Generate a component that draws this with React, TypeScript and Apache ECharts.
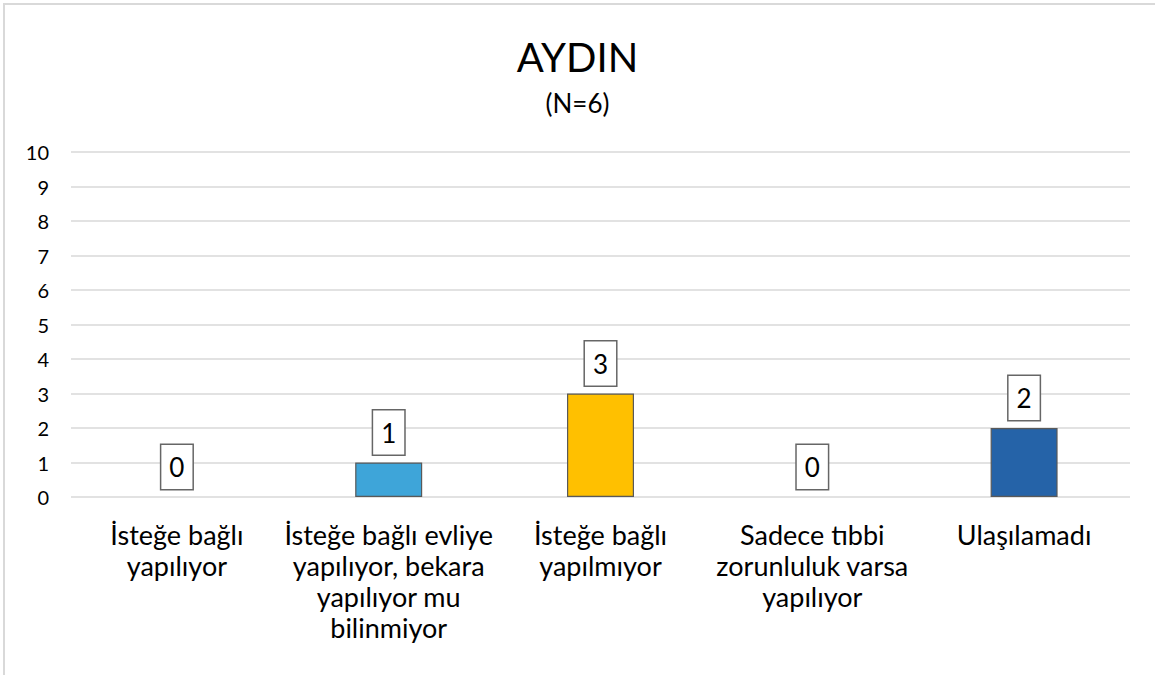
import React, { useEffect, useRef } from "react";
import * as echarts from "echarts";

const categories = [
  "İsteğe bağlı\nyapılıyor",
  "İsteğe bağlı evliye\nyapılıyor, bekara\nyapılıyor mu\nbilinmiyor",
  "İsteğe bağlı\nyapılmıyor",
  "Sadece tıbbi\nzorunluluk varsa\nyapılıyor",
  "Ulaşılamadı",
];
const values = [0, 1, 3, 0, 2];
const barColors = ["#3EA5D9", "#3EA5D9", "#FFC000", "#3EA5D9", "#2563A8"];
const titleText = "AYDIN";
const subtitleText = "(N=6)";
const yMin = 0;
const yMax = 10;
const yInterval = 1;

const FONT = "Lato, 'Noto Sans', sans-serif";

export default function App() {
  const ref = useRef<HTMLDivElement>(null);
  useEffect(() => {
    if (!ref.current) return;
    const chart = echarts.init(ref.current, null, { renderer: "svg" });
    chart.setOption({
      animation: false,
      backgroundColor: "#ffffff",
      textStyle: { fontFamily: FONT },
      title: {
        text: titleText,
        subtext: subtitleText,
        left: "center",
        top: 32,
        itemGap: 13,
        textStyle: { fontFamily: FONT, fontSize: 40, fontWeight: "normal", color: "#000" },
        subtextStyle: { fontFamily: FONT, fontSize: 26, color: "#000" },
      },
      graphic: [
        {
          type: "rect",
          shape: { x: 4, y: 4, width: 1300, height: 800 },
          style: { fill: "none", stroke: "#d9d9d9", lineWidth: 2 },
          silent: true,
        },
      ],
      grid: { left: 71, right: 25, top: 152, bottom: 178, containLabel: false },
      xAxis: {
        type: "category",
        data: categories,
        axisLine: { show: false },
        axisTick: { show: false },
        axisLabel: {
          interval: 0,
          fontFamily: FONT,
          fontSize: 27,
          lineHeight: 31,
          color: "#000",
          margin: 22,
          align: "center",
        },
      },
      yAxis: {
        type: "value",
        min: yMin,
        max: yMax,
        interval: yInterval,
        axisLine: { show: false },
        axisTick: { show: false },
        splitLine: { lineStyle: { color: "#d9d9d9", width: 1.5 } },
        axisLabel: { fontFamily: FONT, fontSize: 20, color: "#000", margin: 22 },
      },
      series: [
        {
          type: "bar",
          barWidth: 67,
          data: values.map((v, i) => ({
            value: v,
            itemStyle: {
              color: barColors[i],
              borderColor: "#595959",
              borderWidth: v === 0 ? 0 : 1.2,
            },
          })),
          label: {
            show: true,
            position: "top",
            distance: 8,
            fontFamily: FONT,
            fontSize: 26,
            lineHeight: 26,
            color: "#000",
            backgroundColor: "#ffffff",
            borderColor: "#666666",
            borderWidth: 1.5,
            padding: [9, 8, 9, 8],
          },
        },
      ],
    });
    return () => chart.dispose();
  }, []);
  return (
    <div
      ref={ref}
      style={{ position: "absolute", left: 0, top: 0, width: 1155, height: 675 }}
    />
  );
}
